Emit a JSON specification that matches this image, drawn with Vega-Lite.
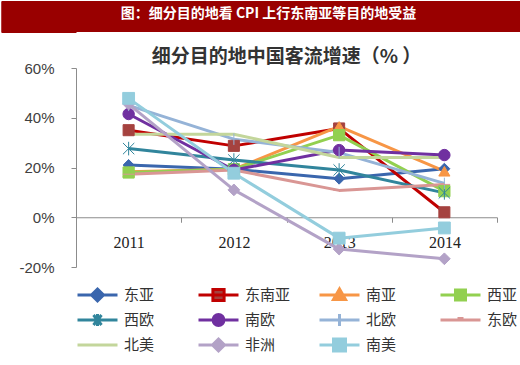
{
  "$schema": "https://vega.github.io/schema/vega-lite/v6.json",
  "padding": 0,
  "background": "white",
  "spacing": 15,
  "config": {
    "view": {"stroke": null},
    "legend": {
      "orient": "bottom",
      "direction": "horizontal",
      "columns": 4,
      "gridAlign": "all",
      "columnPadding": 27,
      "rowPadding": 7,
      "symbolSize": 1600,
      "symbolStrokeWidth": 3,
      "labelFont": "Noto Sans CJK SC",
      "labelFontSize": 15,
      "labelColor": "#333333",
      "labelOffset": 5,
      "clipHeight": 18,
      "offset": 19,
      "symbolOffset": 0,
      "padding": 0
    }
  },
  "datasets": {
    "bar": [{"t": "图：细分目的地看 CPI 上行东南亚等目的地受益"}],
    "growth": [
      {"region": "东亚", "year": "2011", "value": 21},
      {"region": "东亚", "year": "2012", "value": 19.3},
      {"region": "东亚", "year": "2013", "value": 15.5},
      {"region": "东亚", "year": "2014", "value": 19.5},
      {"region": "东南亚", "year": "2011", "value": 35},
      {"region": "东南亚", "year": "2012", "value": 28.7},
      {"region": "东南亚", "year": "2013", "value": 35.7},
      {"region": "东南亚", "year": "2014", "value": 2},
      {"region": "南亚", "year": "2011", "value": 18.3},
      {"region": "南亚", "year": "2012", "value": 19.3},
      {"region": "南亚", "year": "2013", "value": 36.5},
      {"region": "南亚", "year": "2014", "value": 18.5},
      {"region": "西亚", "year": "2011", "value": 18},
      {"region": "西亚", "year": "2012", "value": 19.3},
      {"region": "西亚", "year": "2013", "value": 33},
      {"region": "西亚", "year": "2014", "value": 10.5},
      {"region": "西欧", "year": "2011", "value": 27.6},
      {"region": "西欧", "year": "2012", "value": 23},
      {"region": "西欧", "year": "2013", "value": 19},
      {"region": "西欧", "year": "2014", "value": 9.8},
      {"region": "南欧", "year": "2011", "value": 41.5},
      {"region": "南欧", "year": "2012", "value": 19},
      {"region": "南欧", "year": "2013", "value": 27},
      {"region": "南欧", "year": "2014", "value": 25},
      {"region": "北欧", "year": "2011", "value": 45},
      {"region": "北欧", "year": "2012", "value": 31.4},
      {"region": "北欧", "year": "2013", "value": 26},
      {"region": "北欧", "year": "2014", "value": 13.6},
      {"region": "东欧", "year": "2011", "value": 17.3},
      {"region": "东欧", "year": "2012", "value": 19},
      {"region": "东欧", "year": "2013", "value": 10.8},
      {"region": "东欧", "year": "2014", "value": 13.2},
      {"region": "北美", "year": "2011", "value": 33.4},
      {"region": "北美", "year": "2012", "value": 33.4},
      {"region": "北美", "year": "2013", "value": 24},
      {"region": "北美", "year": "2014", "value": 24},
      {"region": "非洲", "year": "2011", "value": 45.5},
      {"region": "非洲", "year": "2012", "value": 11},
      {"region": "非洲", "year": "2013", "value": -12.8},
      {"region": "非洲", "year": "2014", "value": -16.7},
      {"region": "南美", "year": "2011", "value": 47.8},
      {"region": "南美", "year": "2012", "value": 17.7},
      {"region": "南美", "year": "2013", "value": -8.4},
      {"region": "南美", "year": "2014", "value": -4.3}
    ]
  },
  "vconcat": [
    {
      "width": 445,
      "height": 31,
      "view": {"fill": "#990000", "stroke": null},
      "data": {"name": "bar"},
      "mark": {"type": "text", "color": "white", "font": "Noto Sans CJK SC", "fontSize": 14, "fontWeight": "bold", "dx": -30, "dy": -3},
      "encoding": {
        "text": {"field": "t"},
        "y": {"datum": 15.5, "type": "quantitative", "scale": {"domain": [0, 31], "nice": false, "zero": false},
          "axis": {"title": null, "labels": false, "domain": false, "grid": false, "ticks": true,
            "values": [0.5, 1.5, 2.5, 3.5, 4.5, 5.5, 6.5, 7.5, 8.5, 9.5, 10.5, 11.5, 12.5, 13.5, 14.5, 15.5, 16.5, 17.5, 18.5, 19.5, 20.5, 21.5, 22.5, 23.5, 24.5, 25.5, 26.5, 27.5, 28.5, 29.5, 30.5],
            "tickSize": 75, "tickWidth": 2, "tickColor": "#990000", "tickRound": false, "minExtent": 75, "maxExtent": 75}}
      }
    },
    {
      "width": 421,
      "height": 199,
      "title": {"text": "细分目的地中国客流增速（% ）", "font": "Noto Sans CJK SC", "fontSize": 19, "fontWeight": "bold", "color": "#333333", "offset": -6},
      "data": {"name": "growth"},
      "resolve": {"scale": {"color": "independent", "stroke": "independent", "shape": "independent", "size": "independent", "strokeWidth": "independent"}},
      "layer": [
        {
          "mark": {"type": "line", "strokeJoin": "round"},
          "encoding": {
            "x": {"field": "year", "type": "ordinal", "scale": {"type": "band", "paddingInner": 0, "paddingOuter": 0},
              "axis": {"title": null, "offset": -49.75, "tickBand": "extent", "domainColor": "#8c8c8c", "tickColor": "#8c8c8c", "tickSize": 5, "labelFont": "Liberation Serif", "labelFontSize": 16, "labelColor": "#222222", "labelPadding": 12, "labelAngle": 0}},
            "y": {"field": "value", "type": "quantitative", "scale": {"domain": [-20, 60], "nice": false},
              "axis": {"title": null, "values": [-20, 0, 20, 40, 60], "labelExpr": "datum.value + '%'", "grid": false, "domainColor": "#8c8c8c", "tickColor": "#8c8c8c", "tickSize": 5, "labelPadding": 17, "labelFont": "Liberation Sans", "labelFontSize": 15, "labelColor": "#404040", "minExtent": 75, "maxExtent": 75}},
            "stroke": {"field": "region", "type": "nominal", "legend": null,
              "scale": {"domain": ["东亚","东南亚","南亚","西亚","西欧","南欧","北欧","东欧","北美","非洲","南美"],
                "range": ["#3a66ad","#c00000","#f79646","#92d050","#31859c","#7030a0","#95b3d7","#d99694","#c3d69b","#b3a2c7","#93cddd"]}},
            "strokeWidth": {"field": "region", "type": "nominal", "legend": null,
              "scale": {"domain": ["东亚","东南亚","南亚","西亚","西欧","南欧","北欧","东欧","北美","非洲","南美"],
                "range": [3, 3, 3, 3, 3, 3, 4, 3.5, 4.5, 3.5, 3.5]}}
          }
        },
        {
          "mark": {"type": "point", "filled": true, "opacity": 1},
          "encoding": {
            "x": {"field": "year", "type": "ordinal"},
            "y": {"field": "value", "type": "quantitative"},
            "color": {"field": "region", "type": "nominal", "legend": null,
              "scale": {"domain": ["东亚","东南亚","南亚","西亚","西欧","南欧","北欧","东欧","北美","非洲","南美"],
                "range": ["#3a66ad","#a5423f","#f79646","#92d050","#31859c","#7030a0","#95b3d7","#d99694","#c3d69b","#b3a2c7","#93cddd"]}},
            "stroke": {"field": "region", "type": "nominal", "legend": null,
              "scale": {"domain": ["东亚","东南亚","南亚","西亚","西欧","南欧","北欧","东欧","北美","非洲","南美"],
                "range": ["#3a66ad","#a5423f","#f79646","#92d050","#31859c","#7030a0","#95b3d7","#d99694","#c3d69b","#b3a2c7","#93cddd"]}},
            "strokeWidth": {"field": "region", "type": "nominal", "legend": null,
              "scale": {"domain": ["东亚","东南亚","南亚","西亚","西欧","南欧","北欧","东欧","北美","非洲","南美"],
                "range": [1, 1, 1, 1, 2.5, 1, 2, 2, 0, 1, 1]}},
            "shape": {"field": "region", "type": "nominal", "legend": null,
              "scale": {"domain": ["东亚","东南亚","南亚","西亚","西欧","南欧","北欧","东欧","北美","非洲","南美"],
                "range": ["diamond","square","triangle-up","square","M-1,-1L1,1M1,-1L-1,1M0,-1.2V1.2","circle","M0,-1V1","M-1,0H1","M0,0","diamond","square"]}},
            "size": {"field": "region", "type": "nominal", "legend": null,
              "scale": {"domain": ["东亚","东南亚","南亚","西亚","西欧","南欧","北欧","东欧","北美","非洲","南美"],
                "range": [120, 140, 150, 130, 90, 140, 100, 60, 0, 120, 200]}}
          }
        },
        {
          "transform": [{"filter": "false"}],
          "mark": {"type": "point", "filled": true, "opacity": 1, "strokeWidth": 3},
          "encoding": {
            "color": {"field": "region", "type": "nominal", "title": null,
              "scale": {"domain": ["东亚","东南亚","南亚","西亚","西欧","南欧","北欧","东欧","北美","非洲","南美"],
                "range": ["#3a66ad","#a5423f","#f79646","#92d050","#31859c","#7030a0","#95b3d7","#d99694","#c3d69b","#b3a2c7","#93cddd"]}},
            "stroke": {"field": "region", "type": "nominal", "title": null,
              "scale": {"domain": ["东亚","东南亚","南亚","西亚","西欧","南欧","北欧","东欧","北美","非洲","南美"],
                "range": ["#3a66ad","#c00000","#f79646","#92d050","#31859c","#7030a0","#95b3d7","#d99694","#c3d69b","#b3a2c7","#93cddd"]}},
            "shape": {"field": "region", "type": "nominal", "title": null,
              "scale": {"domain": ["东亚","东南亚","南亚","西亚","西欧","南欧","北欧","东欧","北美","非洲","南美"],
                "range": [
                  "M-1,0H1M0,-0.3L0.3,0L0,0.3L-0.3,0Z",
                  "M-1,0H1M-0.28,-0.28H0.28V0.28H-0.28Z",
                  "M-1,0H1M0,-0.3L0.3,0.22H-0.3Z",
                  "M-1,0H1M-0.25,-0.25H0.25V0.25H-0.25Z",
                  "M-1,0H1M-0.2,-0.25L0.2,0.25M0.2,-0.25L-0.2,0.25M0,-0.3V0.3",
                  "M-1,0H1M-0.27,0A0.27,0.27,0,1,0,0.27,0A0.27,0.27,0,1,0,-0.27,0Z",
                  "M-1,0H1M0,-0.3V0.3",
                  "M-1,0H1M-0.15,-0.08H0.15",
                  "M-1,0H1",
                  "M-1,0H1M0,-0.3L0.3,0L0,0.3L-0.3,0Z",
                  "M-1,0H1M-0.3,-0.3H0.3V0.3H-0.3Z"
                ]}}
          }
        }
      ]
    }
  ]
}
